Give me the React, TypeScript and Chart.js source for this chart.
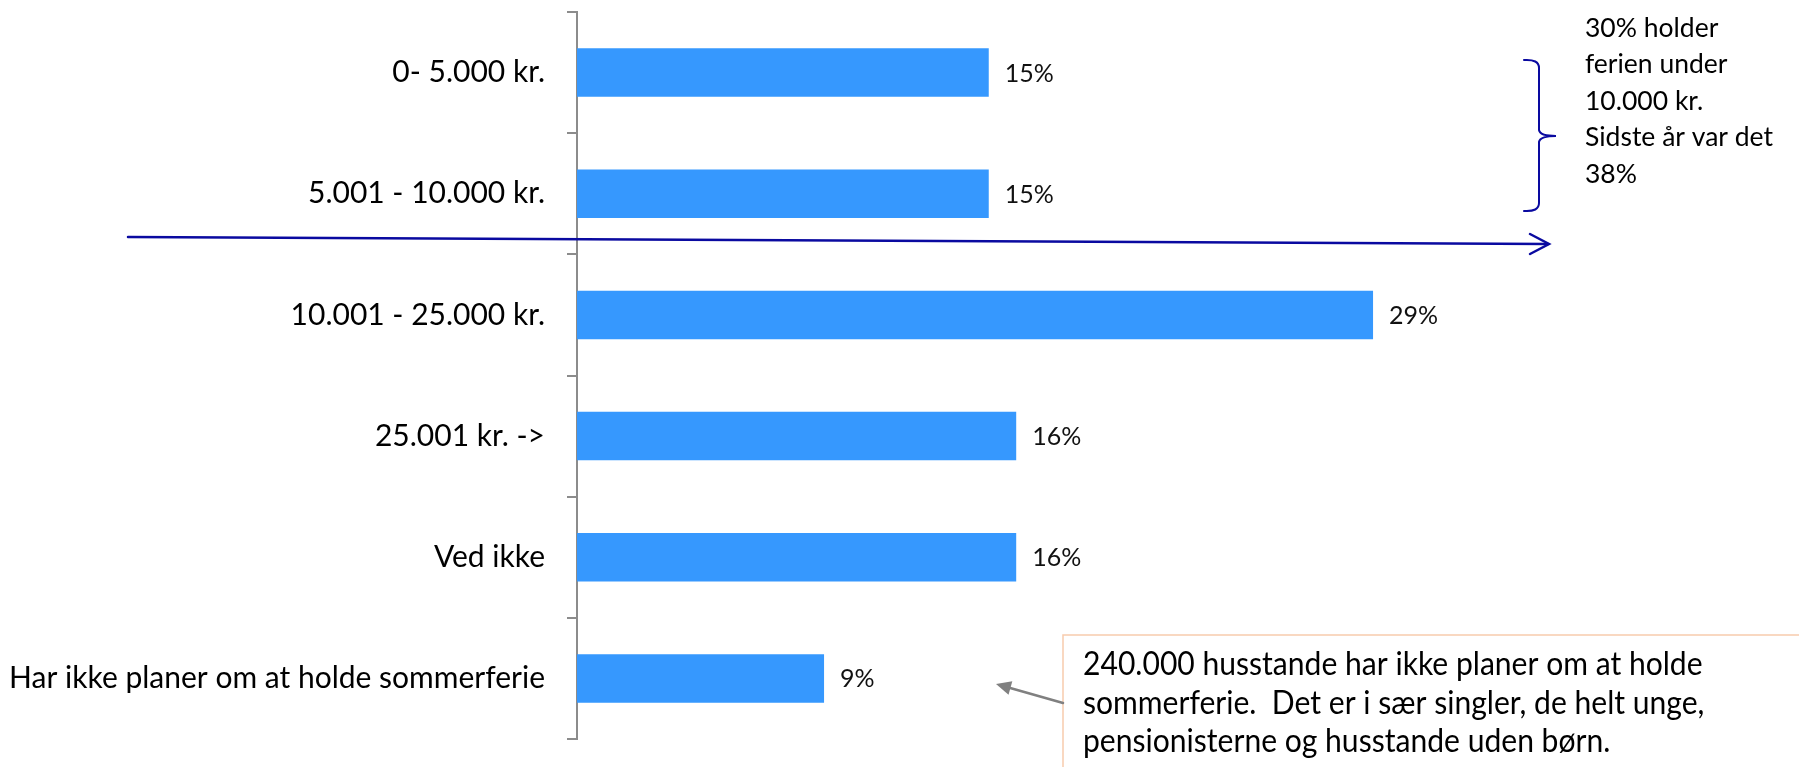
import React, { useEffect, useRef } from "react";
import { Chart, registerables } from "chart.js";

Chart.register(...registerables);

const categories = [
  "0- 5.000 kr.",
  "5.001 - 10.000 kr.",
  "10.001 - 25.000 kr.",
  "25.001 kr. ->",
  "Ved ikke",
  "Har ikke planer om at holde sommerferie",
];
const shares = [15, 15, 29, 16, 16, 9];
const braceNote = ["30% holder", "ferien under", "10.000 kr.", "Sidste år var det", "38%"];
const boxNote = [
  "240.000 husstande har ikke planer om at holde",
  "sommerferie.  Det er i sær singler, de helt unge,",
  "pensionisterne og husstande uden børn.",
];

const W = 1799;
const H = 767;
const AXIS_X = 577;
const FONT = "Lato, 'Open Sans', sans-serif";

const valueLabels = {
  id: "valueLabels",
  afterDatasetsDraw(chart: any) {
    const { ctx } = chart;
    const meta = chart.getDatasetMeta(0);
    ctx.save();
    ctx.font = `25px ${FONT}`;
    ctx.fillStyle = "#111";
    ctx.textAlign = "left";
    ctx.textBaseline = "middle";
    meta.data.forEach((bar: any, i: number) => {
      ctx.fillText(`${shares[i]}%`, bar.x + 16, bar.y + 1);
    });
    ctx.restore();
  },
};

const annotations = {
  id: "annotations",
  afterDraw(chart: any) {
    const { ctx } = chart;
    ctx.save();

    // blue dividing arrow
    const navy = "#0A0AA0";
    ctx.strokeStyle = navy;
    ctx.lineWidth = 2.5;
    ctx.lineCap = "round";
    ctx.beginPath();
    ctx.moveTo(128, 237);
    ctx.lineTo(1548, 244);
    ctx.stroke();
    ctx.beginPath();
    ctx.moveTo(1530, 234);
    ctx.lineTo(1549, 244);
    ctx.lineTo(1530, 254);
    ctx.stroke();

    // brace
    ctx.lineWidth = 2;
    ctx.beginPath();
    ctx.moveTo(1524, 60);
    ctx.quadraticCurveTo(1539, 59, 1539, 68);
    ctx.lineTo(1539, 130);
    ctx.quadraticCurveTo(1540, 136, 1556, 136);
    ctx.quadraticCurveTo(1540, 136, 1539, 142);
    ctx.lineTo(1539, 203);
    ctx.quadraticCurveTo(1539, 212, 1524, 211);
    ctx.stroke();

    // brace note
    ctx.fillStyle = "#000";
    ctx.font = `26.5px ${FONT}`;
    ctx.textAlign = "left";
    ctx.textBaseline = "middle";
    braceNote.forEach((t, i) => ctx.fillText(t, 1585, 28 + i * 36.5));

    // box
    ctx.fillStyle = "#fff";
    ctx.fillRect(1063, 635, 760, 160);
    ctx.strokeStyle = "#F8CBAD";
    ctx.lineWidth = 1.5;
    ctx.strokeRect(1063, 635, 760, 160);

    ctx.fillStyle = "#000";
    ctx.font = `32px ${FONT}`;
    boxNote.forEach((t, i) => {
      ctx.save();
      ctx.translate(1083, 665 + i * 38.5);
      ctx.scale(0.94, 1);
      ctx.fillText(t, 0, 0);
      ctx.restore();
    });

    // gray pointer arrow
    const gray = "#808080";
    ctx.strokeStyle = gray;
    ctx.fillStyle = gray;
    ctx.lineWidth = 2.5;
    const x1 = 1063, y1 = 703, x2 = 996, y2 = 684;
    const ang = Math.atan2(y2 - y1, x2 - x1);
    const hl = 15, hw = 7;
    ctx.beginPath();
    ctx.moveTo(x1, y1);
    ctx.lineTo(x2 - Math.cos(ang) * hl * 0.8, y2 - Math.sin(ang) * hl * 0.8);
    ctx.stroke();
    ctx.beginPath();
    ctx.moveTo(x2, y2);
    ctx.lineTo(
      x2 - Math.cos(ang) * hl + Math.sin(ang) * hw,
      y2 - Math.sin(ang) * hl - Math.cos(ang) * hw
    );
    ctx.lineTo(
      x2 - Math.cos(ang) * hl - Math.sin(ang) * hw,
      y2 - Math.sin(ang) * hl + Math.cos(ang) * hw
    );
    ctx.closePath();
    ctx.fill();

    ctx.restore();
  },
};

export default function App() {
  const ref = useRef<HTMLCanvasElement | null>(null);

  useEffect(() => {
    if (!ref.current) return;
    const chart = new Chart(ref.current, {
      type: "bar",
      data: {
        labels: categories,
        datasets: [
          {
            data: shares,
            backgroundColor: "#3698FE",
            borderWidth: 0,
            barPercentage: 0.5,
            categoryPercentage: 0.8,
          },
        ],
      },
      options: {
        indexAxis: "y",
        animation: false,
        responsive: false,
        maintainAspectRatio: false,
        devicePixelRatio: 1,
        layout: { padding: { top: 12, bottom: 28, left: 0, right: W - 1675 } },
        plugins: {
          legend: { display: false },
          tooltip: { enabled: false },
        },
        scales: {
          x: { display: false, min: 0, max: 40 },
          y: {
            type: "category",
            grid: {
              display: true,
              drawOnChartArea: false,
              drawTicks: true,
              tickLength: 10,
              color: "#8C8C8C",
              lineWidth: 2,
              offset: true,
            },
            border: { display: true, color: "#8C8C8C", width: 2 },
            ticks: {
              color: "#000",
              padding: 22,
              font: { family: FONT, size: 30 },
            },
            afterFit(scale: any) {
              scale.width = AXIS_X;
              scale.paddingTop = 0;
              scale.paddingBottom = 0;
            },
          },
        },
      },
      plugins: [valueLabels, annotations],
    });
    return () => chart.destroy();
  }, []);

  return (
    <div style={{ position: "absolute", left: 0, top: 0, width: W, height: H, background: "#fff" }}>
      <canvas ref={ref} width={W} height={H} style={{ display: "block", width: W, height: H }} />
    </div>
  );
}
